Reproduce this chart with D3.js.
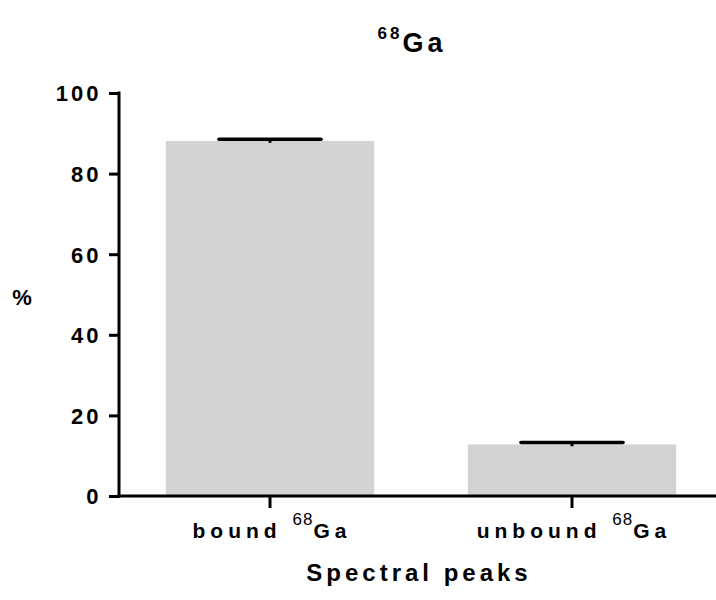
<html>
<head>
	<script src="https://d3js.org/d3.v7.min.js"></script>
	<meta charset="utf-8">
	<style>
		body { margin: 0; background-color: white; }
		text { font-family: "Liberation Sans", Arial, sans-serif; font-weight: bold; }
	</style>
</head>
<body>
	<script type="text/javascript">
	// *** data
	var categories = ["bound", "unbound"];
	var means = [88.1, 12.8];
	var errors = [0.45, 0.45];
	var yTicks = [0, 20, 40, 60, 80, 100];

	var width = 716, height = 600;
	var margin = { top: 93, left: 119, bottom: 104 };

	var svg = d3.select("body").append("svg")
		.attr("width", width)
		.attr("height", height);

	// *** Scale setting
	var xScale = d3.scaleBand().domain(categories).range([margin.left, 723])
		.paddingInner(0.31).paddingOuter(0.155);
	var yScale = d3.scaleLinear().domain([0, 100]).range([height - margin.bottom, margin.top]);

	// *** bars
	svg.append("g").selectAll("rect")
		.data(categories)
		.enter().append("rect")
		.attr("x", function(d){ return xScale(d); })
		.attr("y", function(d, i){ return yScale(means[i]); })
		.attr("width", xScale.bandwidth())
		.attr("height", function(d, i){ return yScale(0) - yScale(means[i]); })
		.attr("fill", "#d3d3d3");

	// *** error bars
	var capHalf = xScale.bandwidth() * 0.245;
	var err = svg.append("g").selectAll("g")
		.data(categories)
		.enter().append("g");
	err.append("line")
		.attr("x1", function(d){ return xScale(d) + xScale.bandwidth() / 2; })
		.attr("x2", function(d){ return xScale(d) + xScale.bandwidth() / 2; })
		.attr("y1", function(d, i){ return yScale(means[i] - errors[i]); })
		.attr("y2", function(d, i){ return yScale(means[i] + errors[i]); })
		.attr("stroke", "black")
		.attr("stroke-width", 3);
	err.append("line")
		.attr("x1", function(d){ return xScale(d) + xScale.bandwidth() / 2 - capHalf; })
		.attr("x2", function(d){ return xScale(d) + xScale.bandwidth() / 2 + capHalf; })
		.attr("y1", function(d, i){ return yScale(means[i] + errors[i]); })
		.attr("y2", function(d, i){ return yScale(means[i] + errors[i]); })
		.attr("stroke", "black")
		.attr("stroke-width", 3.5)
		.attr("stroke-linecap", "round");

	// *** Axis style
	var yAxis = svg.append("g")
		.attr("transform", "translate(" + margin.left + ",0)")
		.call(d3.axisLeft(yScale).tickValues(yTicks).tickSize(10).tickPadding(6).tickSizeOuter(0));
	var xAxis = svg.append("g")
		.attr("transform", "translate(0," + yScale(0) + ")")
		.call(d3.axisBottom(xScale).tickSize(12).tickSizeOuter(0).tickFormat(""));

	svg.selectAll(".domain, .tick line")
		.attr("stroke", "black")
		.attr("stroke-width", 3);
	xAxis.select(".domain").attr("d", "M" + (margin.left - 1.5) + ",0H" + width);
	yAxis.select(".domain").attr("d", "M0," + (margin.top - 1.5) + "V" + (yScale(0) + 1.5));

	yAxis.selectAll(".tick text")
		.attr("font-size", 22)
		.attr("font-family", null)
		.attr("letter-spacing", 3)
		.attr("dx", -1.5)
		.attr("dy", "0.36em")
		.attr("fill", "black");

	// *** category labels with superscript
	var catLabels = svg.append("g").selectAll("text")
		.data(categories)
		.enter().append("text")
		.attr("x", function(d){ return xScale(d) + xScale.bandwidth() / 2 + 2; })
		.attr("y", 538)
		.attr("text-anchor", "middle")
		.attr("font-size", 21)
		.attr("letter-spacing", 5);
	catLabels.append("tspan").text(function(d){ return d + " "; });
	catLabels.append("tspan").text("68")
		.attr("font-size", 17).attr("font-weight", "normal").attr("letter-spacing", 1).attr("dy", -13);
	catLabels.append("tspan").text("Ga").attr("dy", 13);

	// *** title
	var title = svg.append("text")
		.attr("x", 412)
		.attr("y", 52)
		.attr("text-anchor", "middle")
		.attr("font-size", 27)
		.attr("letter-spacing", 4);
	title.append("tspan").text("68").attr("font-size", 17).attr("letter-spacing", 3).attr("dy", -13);
	title.append("tspan").text("Ga").attr("dy", 13);

	// *** axis titles
	svg.append("text")
		.attr("x", 419)
		.attr("y", 581)
		.attr("text-anchor", "middle")
		.attr("font-size", 24)
		.attr("letter-spacing", 4)
		.text("Spectral peaks");
	svg.append("text")
		.attr("x", 22)
		.attr("y", 305)
		.attr("text-anchor", "middle")
		.attr("font-size", 22)
		.text("%");
	</script>
</body>
</html>
